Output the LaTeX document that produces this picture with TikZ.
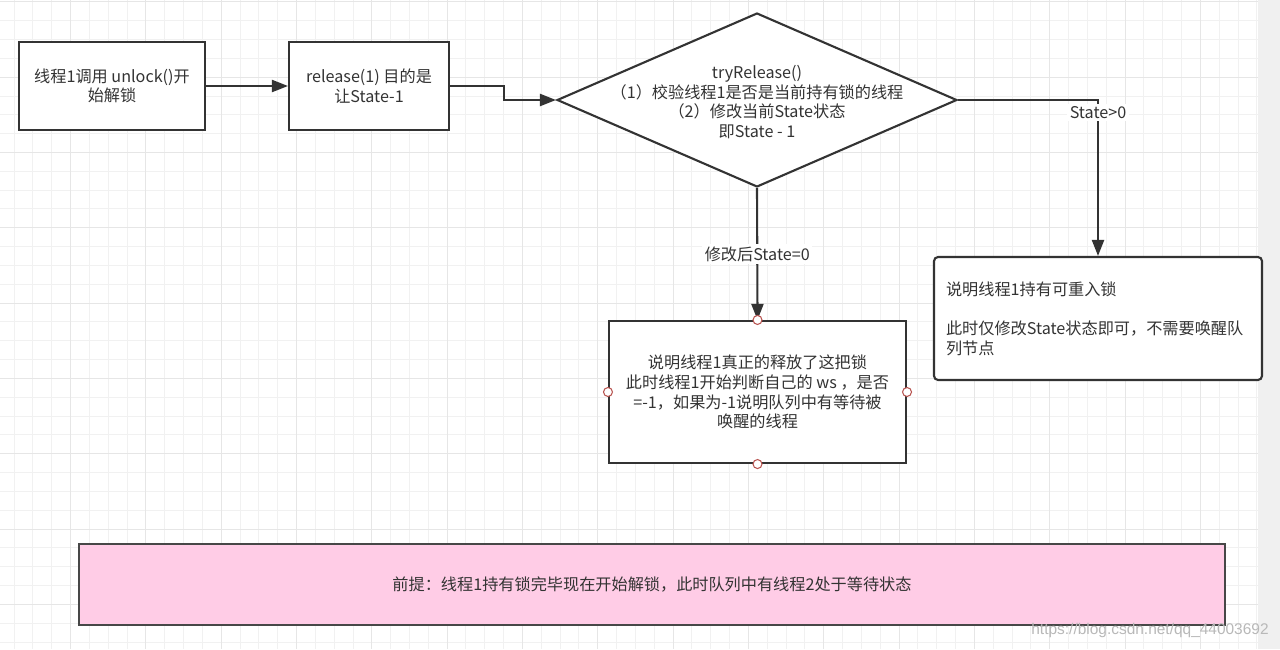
\documentclass[tikz,border=0pt]{standalone}
\usepackage{fontspec}
\setmainfont{Noto Sans CJK SC}
\newfontfamily\markfont{Liberation Sans}
\usetikzlibrary{arrows.meta,shapes.geometric}
\definecolor{ink}{HTML}{333333}
\definecolor{pinkfill}{HTML}{FFCCE6}
\definecolor{gridminor}{HTML}{F1F1F1}
\definecolor{gridmajor}{HTML}{E6E6E6}
\definecolor{sidegray}{HTML}{F0F0F0}
\definecolor{handlered}{HTML}{B85450}
\tikzset{%
  >={Triangle[width=2.4mm,length=3.2mm]},
  % Specifications for style of nodes:
       base/.style = {rectangle, draw=ink, line width=1.2pt, text=ink,
                      inner sep=0pt, align=center,
                      font=\fontsize{9.2}{11.2}\selectfont},
    process/.style = {base, fill=white},
   decision/.style = {base, diamond, fill=white},
       note/.style = {base, fill=white, rounded corners=0.08cm, align=left},
    premise/.style = {base, fill=pinkfill, draw=black!72},
  edgelabel/.style = {fill=white, text=ink, inner sep=1.5pt,
                      font=\fontsize{9.2}{11.2}\selectfont},
     handle/.style = {draw=handlered, fill=white, line width=0.6pt},
}

\begin{document}
\begin{tikzpicture}[x=0.02cm, y=-0.02cm, line width=1.2pt, draw=ink]
  \useasboundingbox (0,0) rectangle (1280,649);
  % background grid
  \fill[white] (0,0) rectangle (1258,649);
  \fill[sidegray] (1258,0) rectangle (1280,649);
  \foreach \i in {0,...,66}
    \draw[gridminor, line width=0.5pt] ({14+18.83*\i},0) -- ({14+18.83*\i},649);
  \foreach \j in {0,...,34}
    \draw[gridminor, line width=0.5pt] (0,{1.8+18.83*\j}) -- (1258,{1.8+18.83*\j});
  \foreach \i in {3,7,...,63}
    \draw[gridmajor, line width=0.5pt] ({14+18.83*\i},0) -- ({14+18.83*\i},649);
  \foreach \j in {0,4,...,32}
    \draw[gridmajor, line width=0.5pt] (0,{1.8+18.83*\j}) -- (1258,{1.8+18.83*\j});

  % Specification of nodes (position, etc.)
  \node (callUnlock)     [process, minimum width=3.72cm, minimum height=1.76cm]
        at (112,86)   {线程1调用 unlock()开\\始解锁};
  \node (releaseBlock)   [process, minimum width=3.2cm, minimum height=1.76cm]
        at (369,86)   {release(1) 目的是\\让State-1};
  \node (tryRelease)     [decision, minimum width=8cm, minimum height=3.48cm,
        label={[base, draw=none, yshift=-0.04cm]center:{tryRelease()\\（1）校验线程1是否是当前持有锁的线程\\（2）修改当前State状态\\即State - 1}}]
        at (757,100)  {};
  \node (freedBlock)     [process, minimum width=5.94cm, minimum height=2.84cm]
        at (757.5,392) {说明线程1真正的释放了这把锁\\此时线程1开始判断自己的 ws ，是否\\=-1，如果为-1说明队列中有等待被\\唤醒的线程};
  \node (reentrantBlock) [note, minimum width=6.56cm, minimum height=2.46cm,
        text width=6.08cm]
        at (1098,318.5) {说明线程1持有可重入锁\\[11.2pt]此时仅修改State状态即可，不需要唤醒队\\列节点};
  \node (premiseBlock)   [premise, minimum width=22.92cm, minimum height=1.62cm]
        at (652,584.5) {前提：线程1持有锁完毕现在开始解锁，此时队列中有线程2处于等待状态};
  \node (csdnMark) [text=black!28, font=\markfont\fontsize{8.8}{10}\selectfont]
        at (1150,630) {https://blog.csdn.net/qq\_44003692};

  % Specification of lines between nodes specified above
  \draw[->]   (callUnlock) -- (releaseBlock);
  \draw[->] (releaseBlock.east) -- ++(54,0) |- (tryRelease.west);
  \draw[->] (tryRelease.east) -| node[edgelabel, pos=0.54] {State>0} (reentrantBlock.north);
  \draw[->] (tryRelease.south) -- node[edgelabel] {修改后State=0} (freedBlock.north);

  % connection handles of the selected box
  \foreach \a in {north,south,east,west}
    \draw[handle] (freedBlock.\a) circle[radius=0.09cm];
\end{tikzpicture}
\end{document}
